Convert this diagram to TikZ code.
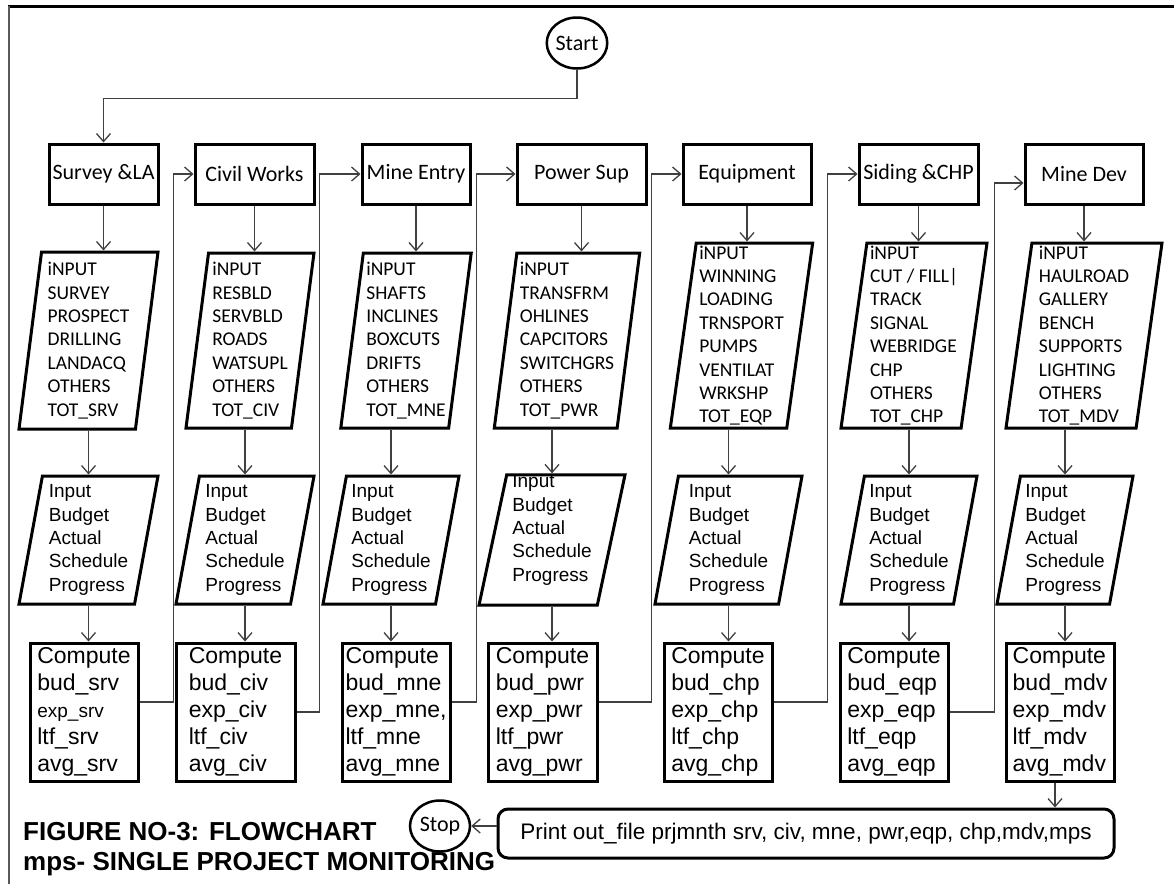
\documentclass[tikz,border=0pt]{standalone}
\usepackage{fontspec}
\setmainfont{Liberation Sans}
\newfontfamily\calibri{Carlito}
\usetikzlibrary{shapes.geometric,arrows.meta}

\begin{document}
\begin{tikzpicture}[
  x=1pt, y=-1pt,
  stage/.style={rectangle, draw, line width=3pt, minimum height=60pt, inner sep=1pt, font=\calibri\fontsize{22}{24}\selectfont},
  inlist/.style={trapezium, trapezium left angle=81.8, trapezium right angle=98.2, trapezium stretches body=true, draw, line width=3pt, align=left, inner xsep=3pt, inner ysep=0pt, font=\calibri\fontsize{19.5}{23.4}\selectfont},
  inbud/.style={trapezium, trapezium left angle=78, trapezium right angle=102, trapezium stretches body=true, draw, line width=3pt, align=left, minimum height=128pt, inner xsep=3pt, inner ysep=0pt, font=\fontsize{19}{23.3}\selectfont},
  calc/.style={rectangle, draw, line width=3pt, align=left, minimum height=138pt, inner sep=0pt, font=\fontsize{23}{27}\selectfont},
  term/.style={ellipse, draw, line width=2.5pt, minimum width=60pt, minimum height=51pt, inner sep=0pt, font=\calibri\fontsize{22}{24}\selectfont},
  arrow/.style={-{Straight Barb[length=8pt,width=14pt]}, line width=1.3pt, draw=black!75}
]
\useasboundingbox (0,0) rectangle (1174,884);
% frame (only top and left edge are visible)
\draw[line width=3pt] (8,6) -- (1174,6);
\draw[line width=2pt, black!65] (9,6) -- (9,884);

\node (start) [term] at (577,43) {Start};

% stage boxes
\node (survey) [stage, minimum width=109pt] at (103.5,174) {Survey \&LA};
\node (civil) [stage, minimum width=119pt] at (254.5,174) {Civil Works};
\node (entry) [stage, minimum width=108pt] at (416,174) {Mine Entry};
\node (power) [stage, minimum width=129pt] at (581.5,174) {Power Sup};
\node (equip) [stage, minimum width=128pt] at (747,174) {Equipment};
\node (siding) [stage, minimum width=119pt] at (918.5,174) {Siding \&CHP};
\node (mdev) [stage, minimum width=118pt] at (1084,174) {Mine Dev};

% item inputs
\node (srvin) [inlist, minimum width=139pt, minimum height=177pt] at (88.5,340.5) {iNPUT\\SURVEY\\PROSPECT\\DRILLING\\LANDACQ\\OTHERS\\TOT\_SRV};
\node (civin) [inlist, minimum width=128pt, minimum height=175pt] at (250,340.5) {iNPUT\\RESBLD\\SERVBLD\\ROADS\\WATSUPL\\OTHERS\\TOT\_CIV};
\node (mnein) [inlist, minimum width=128pt, minimum height=175pt] at (406,340.5) {iNPUT\\SHAFTS\\INCLINES\\BOXCUTS\\DRIFTS\\OTHERS\\TOT\_MNE};
\node (pwrin) [inlist, minimum width=138pt, minimum height=175pt] at (567,340.5) {iNPUT\\TRANSFRM\\OHLINES\\CAPCITORS\\SWITCHGRS\\OTHERS\\TOT\_PWR};
\node (eqpin) [inlist, minimum width=135pt, minimum height=185pt] at (741.5,335.5) {iNPUT\\WINNING\\LOADING\\TRNSPORT\\PUMPS\\VENTILAT\\WRKSHP\\TOT\_EQP};
\node (chpin) [inlist, minimum width=146pt, minimum height=185pt] at (914,335.5) {iNPUT\\CUT / FILL|\\TRACK\\SIGNAL\\WEBRIDGE\\CHP\\OTHERS\\TOT\_CHP};
\node (mdvin) [inlist, minimum width=156pt, minimum height=185pt] at (1084,335.5) {iNPUT\\HAULROAD\\GALLERY\\BENCH\\SUPPORTS\\LIGHTING\\OTHERS\\TOT\_MDV};

% budget inputs
\node (srvbud) [inbud, minimum width=139pt] at (88.5,540) {Input\\Budget\\Actual\\Schedule\\Progress};
\node (civbud) [inbud, minimum width=138pt] at (245,540) {Input\\Budget\\Actual\\Schedule\\Progress};
\node (mnebud) [inbud, minimum width=136pt] at (391,540) {Input\\Budget\\Actual\\Schedule\\Progress};
\node (pwrbud) [inbud, minimum width=146pt, text depth=24pt] at (552,540) {Input\\Budget\\Actual\\Schedule\\Progress}; % text sits higher here
\node (eqpbud) [inbud, minimum width=147pt] at (728.5,540) {Input\\Budget\\Actual\\Schedule\\Progress};
\node (chpbud) [inbud, minimum width=136pt] at (909,540) {Input\\Budget\\Actual\\Schedule\\Progress};
\node (mdvbud) [inbud, minimum width=136pt] at (1065,540) {Input\\Budget\\Actual\\Schedule\\Progress};

% compute boxes
\node (srvcomp) [calc, minimum width=108pt] at (84,712) {Compute\\bud\_srv\\{\fontsize{19}{27}\selectfont exp\_srv}\\ltf\_srv\\avg\_srv};
\node (civcomp) [calc, minimum width=119pt] at (235.5,712) {Compute\\bud\_civ\\exp\_civ\\ltf\_civ\\avg\_civ};
\node (mnecomp) [calc, minimum width=108pt] at (396,712) {Compute\\bud\_mne\\exp\_mne,\\ltf\_mne\\avg\_mne};
\node (pwrcomp) [calc, minimum width=109pt] at (542.5,712) {Compute\\bud\_pwr\\exp\_pwr\\ltf\_pwr\\avg\_pwr};
\node (chpcomp) [calc, minimum width=108pt] at (718,712) {Compute\\bud\_chp\\exp\_chp\\ltf\_chp\\avg\_chp};
\node (eqpcomp) [calc, minimum width=108pt] at (894,712) {Compute\\bud\_eqp\\exp\_eqp\\ltf\_eqp\\avg\_eqp};
\node (mdvcomp) [calc, minimum width=108pt] at (1060,712) {Compute\\bud\_mdv\\exp\_mdv\\ltf\_mdv\\avg\_mdv};

\node (print) [rectangle, rounded corners=10pt, draw, line width=3pt, minimum width=616pt, minimum height=49pt, font=\fontsize{22.5}{25}\selectfont] at (806,833.5) {Print out\_file prjmnth srv, civ, mne, pwr,eqp, chp,mdv,mps};
\node (stop) [term] at (440,826) {Stop};

\node (title) [anchor=west, inner sep=0pt, align=left, font=\bfseries\fontsize{26}{30}\selectfont] at (23,849.5) {FIGURE NO-3: FLOWCHART\\mps- SINGLE PROJECT MONITORING};

% flow
\draw[arrow] (start.south) -- ++(0,29) -| (survey.north);
\draw[arrow] (survey.south) -- (survey.south |- srvin.north);
\draw[arrow] (civil.south) -- (civil.south |- civin.north);
\draw[arrow] (entry.south) -- (entry.south |- mnein.north);
\draw[arrow] (power.south) -- (power.south |- pwrin.north);
\draw[arrow] (equip.south) -- (equip.south |- eqpin.north);
\draw[arrow] (siding.south) -- (siding.south |- chpin.north);
\draw[arrow] (mdev.south) -- (mdev.south |- mdvin.north);

\draw[arrow] (srvin.south -| srvbud.north) -- (srvbud.north);
\draw[arrow] (civin.south -| civbud.north) -- (civbud.north);
\draw[arrow] (mnein.south -| mnebud.north) -- (mnebud.north);
\draw[arrow] (pwrin.south -| pwrbud.north) -- (pwrbud.north);
\draw[arrow] (eqpin.south -| eqpbud.north) -- (eqpbud.north);
\draw[arrow] (chpin.south -| chpbud.north) -- (chpbud.north);
\draw[arrow] (mdvin.south -| mdvbud.north) -- (mdvbud.north);

\draw[arrow] (srvbud.south) -- (srvbud.south |- srvcomp.north);
\draw[arrow] (civbud.south) -- (civbud.south |- civcomp.north);
\draw[arrow] (mnebud.south) -- (mnebud.south |- mnecomp.north);
\draw[arrow] (pwrbud.south) -- (pwrbud.south |- pwrcomp.north);
\draw[arrow] (eqpbud.south) -- (eqpbud.south |- chpcomp.north);
\draw[arrow] (chpbud.south) -- (chpbud.south |- eqpcomp.north);
\draw[arrow] (mdvbud.south) -- (mdvbud.south |- mdvcomp.north);

% back up to the next stage
\draw[arrow] ([yshift=10pt]srvcomp.east) -- ++(34,0) |- (civil.west);
\draw[arrow] (civcomp.east) -- ++(23,0) |- (entry.west);
\draw[arrow] ([yshift=10pt]mnecomp.east) -- ++(25,0) |- (power.west);
\draw[arrow] ([yshift=10pt]pwrcomp.east) -- ++(53,0) |- (equip.west);
\draw[arrow] ([yshift=10pt]chpcomp.east) -- ++(54,0) |- (siding.west);
\draw[arrow] (eqpcomp.east) -- ++(45,0) |- ([yshift=-9pt]mdev.west);

\draw[arrow] ([xshift=-5pt]mdvcomp.south) -- ([xshift=-5pt]mdvcomp.south |- print.north);
\draw[arrow] (print.west |- stop.east) -- (stop.east);
\end{tikzpicture}
\end{document}
